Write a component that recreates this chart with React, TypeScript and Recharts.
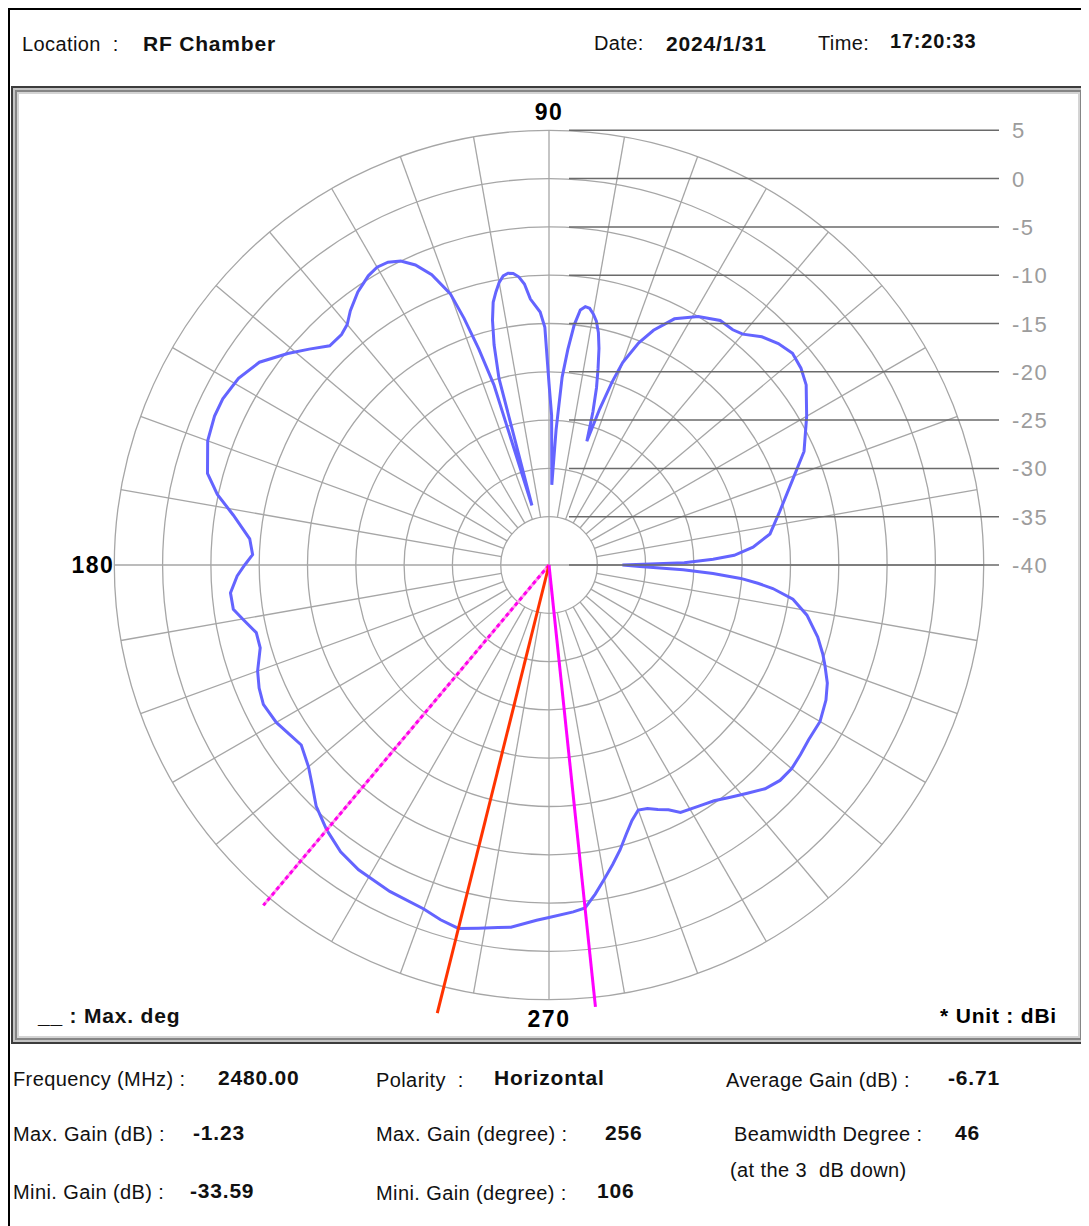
import { RadarChart, Radar, PolarGrid, PolarAngleAxis, PolarRadiusAxis } from "recharts";

// measured pattern, horizontal polarity, 2480 MHz
const angleDeg = [
  0, 1, 2, 3, 5, 8, 13, 19, 24, 30, 35, 38, 41, 44, 47, 50, 52, 55, 59, 63, 66, 68, 70, 71, 72, 73, 74, 75, 76, 77,
  78, 79, 80, 81, 82, 83, 84, 85, 86, 87, 88, 89, 90, 91, 92, 94, 95, 96, 97, 98, 99, 100, 101, 102, 103, 104, 105,
  106, 107, 108, 109, 110, 112, 114, 116, 118, 120, 122, 125, 128, 130, 132, 135, 138, 141, 145, 149, 153, 156, 160,
  165, 168, 171, 175, 178, 180, 182, 185, 188, 190, 193, 196, 200, 203, 206, 210, 213, 216, 220, 223, 226, 230, 234,
  238, 244, 250, 253, 256, 259, 262, 264, 268, 270, 274, 276, 278, 280, 282, 284, 286, 288, 290, 292, 294, 296, 298,
  302, 305, 308, 311, 314, 317, 320, 323, 326, 330, 334, 337, 340, 342, 345, 349, 352, 354, 355, 356, 357, 358, 359,
];
const gainDbi = [
  -32.4, -26.0, -23.0, -20.8, -18.8, -16.9, -15.5, -13.4, -11.1, -9.2, -7.5, -6.9, -6.6, -7.0, -7.7, -8.8, -9.1, -9.1,
  -10.0, -11.4, -13.4, -15.2, -17.7, -20.0, -23.0, -26.6, -23.5, -21.0, -19.0, -17.0, -15.4, -14.3, -13.6, -13.1,
  -13.0, -13.4, -15.0, -17.6, -20.5, -26.0, -31.7, -24.5, -21.2, -15.4, -13.8, -12.4, -10.8, -10.0, -9.6, -9.5, -9.7,
  -10.3, -11.2, -12.2, -14.0, -16.5, -20.0, -33.59, -20.5, -16.5, -13.0, -10.1, -7.6, -6.0, -5.0, -4.5, -4.4, -4.7,
  -5.5, -6.6, -7.5, -7.9, -7.9, -6.6, -5.2, -3.4, -2.5, -2.1, -2.1, -2.4, -3.4, -4.9, -6.9, -8.9, -9.3, -8.5, -7.7,
  -6.9, -7.0, -7.8, -8.9, -8.9, -7.9, -7.4, -7.1, -7.4, -7.9, -8.3, -7.5, -6.5, -5.3, -4.2, -3.3, -2.8, -2.4, -2.1,
  -1.6, -1.23, -1.7, -2.1, -2.3, -3.2, -3.5, -4.0, -4.3, -5.6, -7.0, -8.3, -9.6, -11.0, -12.2, -13.0, -12.8, -12.3,
  -11.8, -11.0, -10.6, -10.2, -9.5, -8.7, -7.8, -7.3, -7.2, -7.4, -7.6, -7.6, -8.1, -8.7, -9.6, -10.2, -11.2, -12.8,
  -14.5, -16.7, -18.3, -20.1, -23.0, -26.1, -30.6,
];

const ringLevels = [5, 0, -5, -10, -15, -20, -25, -30, -35, -40];
const spokeAngles = [
  0, 10, 20, 30, 40, 50, 60, 70, 80, 90, 100, 110, 120, 130, 140, 150, 160, 170, 180, 190, 200, 210, 220, 230, 240,
  250, 260, 270, 280, 290, 300, 310, 320, 330, 340, 350,
];
const labelledAngles = [90, 180, 270];
const hubAngles = [0, 90, 180, 270];

const maxGainDeg = 256;
const beamEdgesDeg = [230, 276];
const maxLineReach = 7.8; // dBi, line runs a bit past the 5 dB ring
const beamLineReach = 6.0;

const frequencyMhz = "2480.00";
const polarity = "Horizontal";
const averageGain = "-6.71";
const maxGain = "-1.23";
const minGain = "-33.59";
const minGainDeg = "106";
const beamwidthDeg = "46";

const rows = angleDeg.map((a, i) => ({
  angle: a,
  gain: gainDbi[i],
  hub: hubAngles.includes(a) ? -35 : null,
  maxDeg: a === maxGainDeg ? maxLineReach : null,
  beamLo: a === beamEdgesDeg[0] ? beamLineReach : null,
  beamHi: a === beamEdgesDeg[1] ? beamLineReach : null,
}));

const FONT = '"Liberation Sans", Arial, sans-serif';
const CX = 530;
const CY = 470;

const spokeShape = (key: string, color: string, width: number, dash?: string, under?: string) => (props: any) => {
  const pts = (props.points || []).filter(
    (p: any) => p.payload && p.payload[key] != null && Number.isFinite(p.x) && Number.isFinite(p.y)
  );
  return (
    <g>
      {pts.map((p: any, i: number) => (
        <g key={i}>
          {under && (
            <line x1={p.cx ?? CX} y1={p.cy ?? CY} x2={p.x} y2={p.y} stroke={under} strokeWidth={width} />
          )}
          <line
            x1={p.cx ?? CX}
            y1={p.cy ?? CY}
            x2={p.x}
            y2={p.y}
            stroke={color}
            strokeWidth={width}
            strokeDasharray={dash}
          />
        </g>
      ))}
    </g>
  );
};

const RingTick = (props: any) => {
  const { x, y, payload } = props;
  return (
    <g>
      <line x1={x + 20} y1={y} x2={x + 450} y2={y} stroke="#6a6a6a" strokeWidth={1.5} />
      <text x={x + 463} y={y + 8} fill="#9c9c9c" fontSize={22} letterSpacing={1.5} fontFamily={FONT}>
        {payload.value}
      </text>
    </g>
  );
};

const AngleTick = (props: any) => {
  const { x, y, payload } = props;
  const v = payload.value;
  if (!labelledAngles.includes(v)) return <g />;
  let tx = x;
  let ty = y;
  let anchor = "middle";
  if (v === 90) ty = y - 2;
  if (v === 180) {
    tx = x + 8;
    ty = y + 8;
    anchor = "end";
  }
  if (v === 270) ty = y + 19;
  return (
    <text
      x={tx}
      y={ty}
      textAnchor={anchor}
      fontSize={23}
      letterSpacing={1.5}
      fontWeight="bold"
      fontFamily={FONT}
      fill="#000"
    >
      {v}
    </text>
  );
};

const T = ({ x, y, bold, size = 20, children }: any) => (
  <div
    style={{
      position: "absolute",
      left: x - 8,
      top: y - 8 - size / 2,
      fontSize: size,
      lineHeight: 1,
      fontFamily: FONT,
      fontWeight: bold ? "bold" : "normal",
      letterSpacing: bold ? 0.8 : 0.4,
      whiteSpace: "pre",
      color: "#111",
    }}
  >
    {children}
  </div>
);

export default function App() {
  return (
    <div style={{ position: "relative", width: 1081, height: 1218, overflow: "hidden", background: "#fff" }}>
      <div
        style={{
          position: "absolute",
          left: 0,
          top: 0,
          width: 1080,
          height: 1260,
          border: "2px solid #000",
          boxSizing: "border-box",
        }}
      />
      <T x={22} y={44}>Location  :</T>
      <T x={143} y={43} bold size={21}>RF Chamber</T>
      <T x={594} y={43}>Date:</T>
      <T x={666} y={43} bold size={21}>2024/1/31</T>
      <T x={818} y={43}>Time:</T>
      <T x={890} y={41} bold size={20}>17:20:33</T>

      <div
        style={{
          position: "absolute",
          left: 3,
          top: 78,
          width: 1075,
          height: 958,
          boxSizing: "border-box",
          border: "2px solid #3c3c3c",
          boxShadow: "inset 0 0 0 2px #c4c4c4, inset 0 0 0 4px #858585, inset 0 0 0 6px #d4d4d4",
        }}
      />
      <div style={{ position: "absolute", left: 11, top: 87 }}>
        <RadarChart
          width={1060}
          height={940}
          data={rows}
          cx={CX}
          cy={CY}
          innerRadius={48.3}
          outerRadius={434.7}
          startAngle={0}
          endAngle={360}
          margin={{ top: 0, right: 0, bottom: 0, left: 0 }}
        >
          <PolarGrid gridType="circle" stroke="#a6a6a6" strokeWidth={1.3} />
          <PolarAngleAxis
            dataKey="angle"
            type="number"
            domain={[0, 360]}
            ticks={spokeAngles}
            tickLine={false}
            axisLine={false}
            tick={AngleTick}
          />
          <PolarRadiusAxis
            angle={90}
            type="number"
            domain={[-35, 5]}
            allowDataOverflow
            ticks={ringLevels}
            axisLine={false}
            tick={RingTick}
          />
          <Radar
            dataKey="hub"
            isAnimationActive={false}
            shape={spokeShape("hub", "#a6a6a6", 1.3)}
          />
          <Radar
            dataKey="gain"
            stroke="#6464ff"
            strokeWidth={3}
            fill="none"
            fillOpacity={0}
            dot={false}
            isAnimationActive={false}
          />
          <Radar
            dataKey="beamLo"
            isAnimationActive={false}
            shape={spokeShape("beamLo", "#ff00ee", 3, "4 3", "#ff9ce8")}
          />
          <Radar
            dataKey="maxDeg"
            isAnimationActive={false}
            shape={spokeShape("maxDeg", "#ff3300", 3)}
          />
          <Radar
            dataKey="beamHi"
            isAnimationActive={false}
            shape={spokeShape("beamHi", "#ff00ff", 3)}
          />
        </RadarChart>
      </div>
      <T x={38} y={1015} bold size={21}>__ : Max. deg</T>
      <div
        style={{
          position: "absolute",
          right: 1081 - (1057 - 8),
          top: 1015 - 8 - 10.5,
          fontSize: 21,
          lineHeight: 1,
          fontWeight: "bold",
          fontFamily: FONT,
          letterSpacing: 0.8,
          whiteSpace: "pre",
        }}
      >
        * Unit : dBi
      </div>

      <T x={13} y={1079}>Frequency (MHz) :</T>
      <T x={218} y={1077} bold size={21}>{frequencyMhz}</T>
      <T x={376} y={1080}>Polarity  :</T>
      <T x={494} y={1077} bold size={21}>{polarity}</T>
      <T x={726} y={1080}>Average Gain (dB) :</T>
      <T x={948} y={1077} bold size={21}>{averageGain}</T>

      <T x={13} y={1134}>Max. Gain (dB) :</T>
      <T x={193} y={1132} bold size={21}>{maxGain}</T>
      <T x={376} y={1134}>Max. Gain (degree) :</T>
      <T x={605} y={1132} bold size={21}>{String(maxGainDeg)}</T>
      <T x={734} y={1134}>Beamwidth Degree :</T>
      <T x={955} y={1132} bold size={21}>{beamwidthDeg}</T>
      <T x={730} y={1170}>(at the 3  dB down)</T>

      <T x={13} y={1192}>Mini. Gain (dB) :</T>
      <T x={190} y={1190} bold size={21}>{minGain}</T>
      <T x={376} y={1193}>Mini. Gain (degree) :</T>
      <T x={597} y={1190} bold size={21}>{minGainDeg}</T>
    </div>
  );
}
